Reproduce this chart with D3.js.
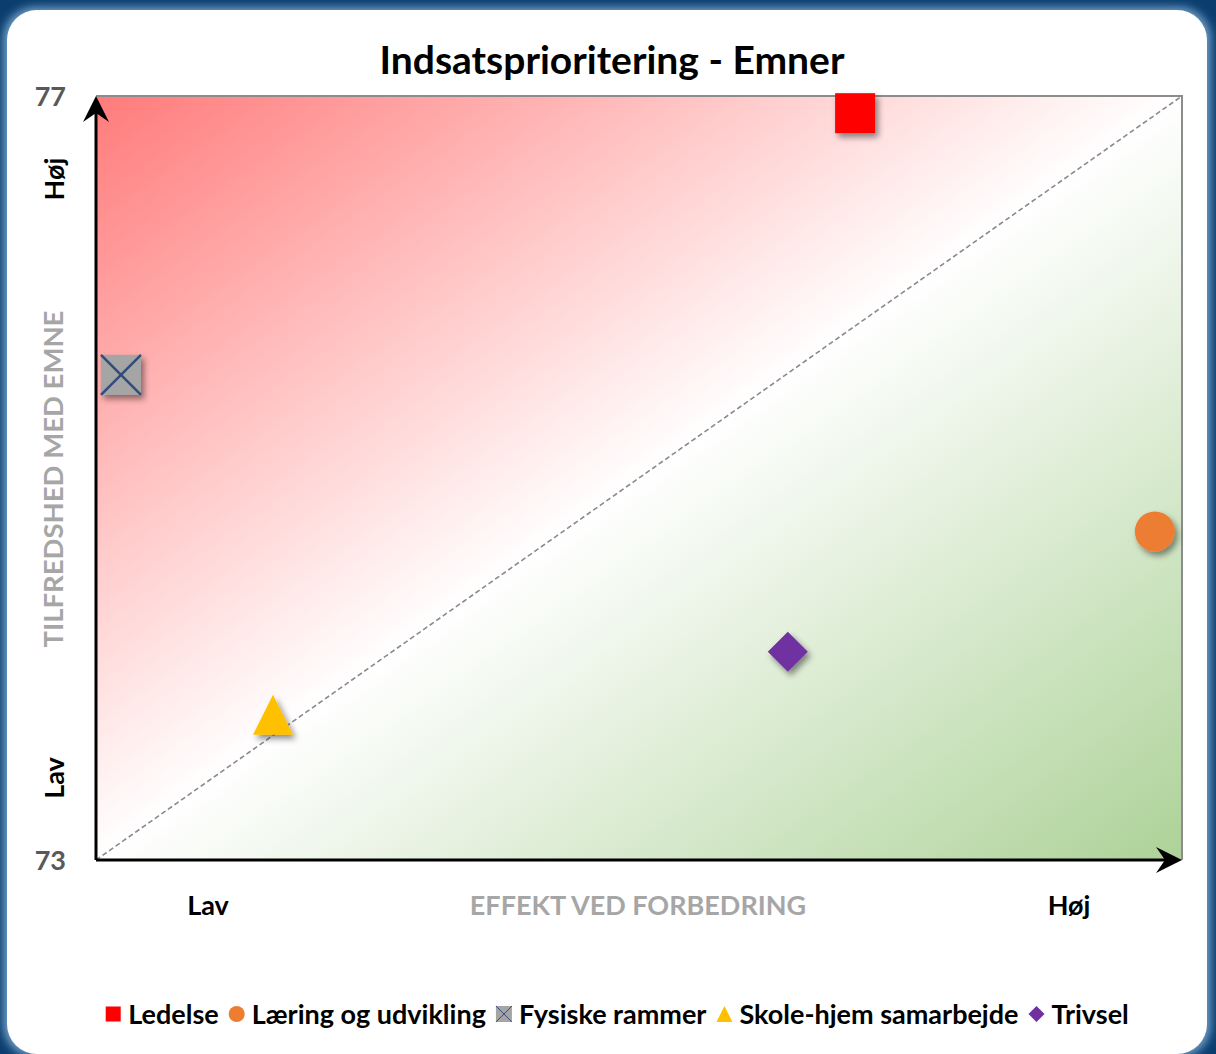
<!DOCTYPE html>
<html>
<head>
<meta charset="utf-8">
<script src="https://cdn.jsdelivr.net/npm/d3@7"></script>
<style>
body { margin: 0; background: #0b3e6f; }
svg { display: block; font-family: Lato, "Open Sans", sans-serif; }
</style>
</head>
<body>
<script>
// data
const title = "Indsatsprioritering - Emner";
const emner = ["Ledelse", "Læring og udvikling", "Fysiske rammer", "Skole-hjem samarbejde", "Trivsel"];
const effekt = [0.699, 0.975, 0.023, 0.163, 0.637];       // x, no scale shown
const tilfredshed = [76.91, 74.72, 75.54, 73.76, 74.09];   // y
const markers = ["square", "circle", "xsquare", "triangle", "diamond"];
const colors = ["#ff0000", "#ed7d31", "#a5a5a5", "#ffc000", "#7030a0"];
const yTicks = [73, 77];
const levels = ["Lav", "Høj"];
const xTitle = "EFFEKT VED FORBEDRING";
const yTitle = "TILFREDSHED MED EMNE";

const W = 1216, H = 1054;
const m = { left: 96, right: 1182, top: 96, bottom: 860 };

let svg = d3.select("body").append("svg").attr("width", W).attr("height", H);
let defs = svg.append("defs");

// card edge glow
let glow = defs.append("filter").attr("id", "edge").attr("x", "-5%").attr("y", "-5%").attr("width", "110%").attr("height", "110%");
glow.append("feGaussianBlur").attr("stdDeviation", 4);

let shadow = defs.append("filter").attr("id", "shadow").attr("x", "-50%").attr("y", "-50%").attr("width", "200%").attr("height", "200%");
shadow.append("feDropShadow").attr("dx", 3).attr("dy", 4).attr("stdDeviation", 3)
    .attr("flood-color", "#000").attr("flood-opacity", 0.45);

let grad = defs.append("linearGradient").attr("id", "bg")
    .attr("x1", 0).attr("y1", 0).attr("x2", 1).attr("y2", 1);
grad.append("stop").attr("offset", "0%").attr("stop-color", "#ff7b7b");
grad.append("stop").attr("offset", "50%").attr("stop-color", "#ffffff");
grad.append("stop").attr("offset", "100%").attr("stop-color", "#add298");

// card
svg.append("rect").attr("x", 3).attr("y", 7).attr("width", 1208).attr("height", 1050)
    .attr("rx", 32).attr("fill", "#6f9cc4").attr("filter", "url(#edge)");
svg.append("rect").attr("x", 7).attr("y", 10).attr("width", 1200).attr("height", 1044)
    .attr("rx", 30).attr("fill", "#ffffff");

// title
svg.append("text").attr("x", 612).attr("y", 74).attr("text-anchor", "middle")
    .style("font-size", "39px").style("font-weight", "bold").style("fill", "#000")
    .text(title);

let x = d3.scaleLinear().domain([0, 1]).range([m.left, m.right]);
let y = d3.scaleLinear().domain([73, 77]).range([m.bottom, m.top]);

// plot area
svg.append("rect").attr("x", x(0)).attr("y", y(77))
    .attr("width", x(1) - x(0)).attr("height", y(73) - y(77))
    .attr("fill", "url(#bg)");

// top and right border
svg.append("path")
    .attr("d", `M${x(0)},${y(77)}H${x(1)}V${y(73)}`)
    .attr("fill", "none").attr("stroke", "#8c8c8c").attr("stroke-width", 2);

// diagonal
svg.append("line")
    .attr("x1", x(0)).attr("y1", y(73)).attr("x2", x(1)).attr("y2", y(77))
    .attr("stroke", "#8a8a8a").attr("stroke-width", 1.6).attr("stroke-dasharray", "5,3");

// axes with arrows
svg.append("line").attr("x1", x(0)).attr("y1", y(73)).attr("x2", x(0)).attr("y2", y(77) + 10)
    .attr("stroke", "#000").attr("stroke-width", 3);
svg.append("line").attr("x1", x(0)).attr("y1", y(73)).attr("x2", x(1) - 10).attr("y2", y(73))
    .attr("stroke", "#000").attr("stroke-width", 3);
let arrow = "M0,0L-26,-13L-17,0L-26,13Z";
svg.append("path").attr("d", arrow).attr("fill", "#000")
    .attr("transform", `translate(${x(0)},${y(77)}) rotate(-90)`);
svg.append("path").attr("d", arrow).attr("fill", "#000")
    .attr("transform", `translate(${x(1)},${y(73)})`);

// y ticks
let yAxis = svg.append("g").attr("transform", `translate(${x(0)},0)`)
    .call(d3.axisLeft(y).tickValues(yTicks).tickSize(0).tickPadding(30).tickFormat(d3.format("d")));
yAxis.select(".domain").remove();
yAxis.selectAll("text").style("font-size", "27px").style("font-weight", "bold")
    .style("fill", "#595959").style("font-family", "Lato, sans-serif").attr("dy", "0.35em");

// y level labels
let yLev = [778, 179];
levels.forEach((t, i) => {
    svg.append("text").attr("transform", `translate(64,${yLev[i]}) rotate(-90)`)
        .attr("text-anchor", "middle").style("font-size", "27px").style("font-weight", "bold")
        .text(t);
});
svg.append("text").attr("transform", "translate(63,479) rotate(-90)")
    .attr("text-anchor", "middle").style("font-size", "27.5px").style("font-weight", "bold")
    .style("fill", "#a6a6a6").text(yTitle);

// x labels
let xLev = [208, 1069];
levels.forEach((t, i) => {
    svg.append("text").attr("x", xLev[i]).attr("y", 915).attr("text-anchor", "middle")
        .style("font-size", "27px").style("font-weight", "bold").text(t);
});
svg.append("text").attr("x", 638).attr("y", 915).attr("text-anchor", "middle")
    .style("font-size", "27px").style("font-weight", "bold").style("fill", "#a6a6a6")
    .text(xTitle);

// marker drawing
function drawMarker(g, type, color, s) {
    let h = s / 2;
    if (type === "square") {
        g.append("rect").attr("x", -h).attr("y", -h).attr("width", s).attr("height", s).attr("fill", color);
    } else if (type === "circle") {
        g.append("circle").attr("r", h).attr("fill", color);
    } else if (type === "xsquare") {
        g.append("rect").attr("x", -h).attr("y", -h).attr("width", s).attr("height", s).attr("fill", color);
        g.append("path").attr("d", `M${-h},${-h}L${h},${h}M${h},${-h}L${-h},${h}`)
            .attr("stroke", "#2f4d7c").attr("stroke-width", s / 16);
    } else if (type === "triangle") {
        g.append("path").attr("d", `M0,${-h}L${h},${h}L${-h},${h}Z`).attr("fill", color);
    } else if (type === "diamond") {
        g.append("path").attr("d", `M0,${-h}L${h},0L0,${h}L${-h},0Z`).attr("fill", color);
    }
}

let pts = svg.append("g").selectAll("g").data(emner).join("g")
    .attr("transform", (d, i) => `translate(${x(effekt[i])},${y(tilfredshed[i])})`)
    .attr("filter", "url(#shadow)");
pts.each(function (d, i) { drawMarker(d3.select(this), markers[i], colors[i], 40); });

// legend
let leg = svg.append("g");
let cx = 0;
emner.forEach((t, i) => {
    let s = markers[i] === "square" ? 15 : 16;
    let mg = leg.append("g").attr("transform", `translate(${cx + 8},0)`);
    drawMarker(mg, markers[i], colors[i], s);
    let txt = leg.append("text").attr("x", cx + 23).attr("y", 9.5)
        .style("font-size", "27px").style("font-weight", "bold").text(t);
    cx += 23 + txt.node().getComputedTextLength() + 10;
});
let legW = cx - 10;
leg.attr("transform", `translate(${617 - legW / 2},1014)`);
</script>
</body>
</html>
